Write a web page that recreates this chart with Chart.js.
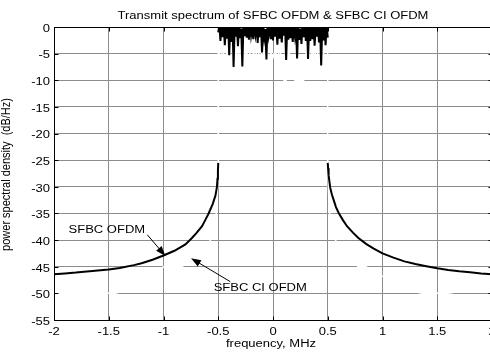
<!DOCTYPE html>
<html>
<head>
<meta charset="utf-8">
<script src="https://cdn.jsdelivr.net/npm/chart.js@4/dist/chart.umd.min.js"></script>
<style>
  html, body { margin: 0; padding: 0; background: #fff; overflow: hidden; }
  #wrap { width: 490px; height: 354px; overflow: hidden; }
  canvas { display: block; }
</style>
</head>
<body>
<div id="wrap"><canvas id="c" width="510" height="354"></canvas></div>
<script>
// ---------- data ----------
const titleText = 'Transmit spectrum of SFBC OFDM & SFBC CI OFDM';
const xTitle = 'frequency, MHz';
const yTitle = 'power spectral density  (dB/Hz)';
const seriesNames = ['SFBC OFDM', 'SFBC CI OFDM'];

const xTickValues = [-2, -1.5, -1, -0.5, 0, 0.5, 1, 1.5, 2];
const xTickLabels = ['-2', '-1.5', '-1', '-0.5', '0', '0.5', '1', '1.5', '2'];
const yTickValues = [0, -5, -10, -15, -20, -25, -30, -35, -40, -45, -50, -55];
const yTickLabels = ['0', '-5', '-10', '-15', '-20', '-25', '-30', '-35', '-40', '-45', '-50', '-55'];

// SFBC OFDM, out of band
const ofdmLeftFreq = [-2, -1.9, -1.8, -1.7, -1.6, -1.5, -1.4, -1.27, -1.2, -1.1, -1.0, -0.9, -0.8, -0.74, -0.7, -0.648, -0.62, -0.588, -0.55, -0.525, -0.512, -0.507, -0.503, -0.5];
const ofdmLeftPsd  = [-46.4, -46.25, -46.1, -45.9, -45.7, -45.5, -45.25, -44.7, -44.35, -43.7, -42.9, -42.0, -40.8, -39.6, -38.7, -37.4, -36.3, -35.0, -33.2, -31.6, -30.0, -28.5, -27.0, -25.5];
const ofdmRightFreq = [0.5, 0.503, 0.508, 0.515, 0.523, 0.537, 0.553, 0.575, 0.6, 0.64, 0.676, 0.73, 0.78, 0.85, 0.92, 1.0, 1.1, 1.2, 1.3, 1.4, 1.5, 1.6, 1.7, 1.8, 1.9, 2.0];
const ofdmRightPsd  = [-25.5, -26.5, -27.8, -29.0, -30.2, -31.4, -32.4, -33.8, -34.9, -36.3, -37.4, -38.6, -39.6, -40.7, -41.6, -42.5, -43.3, -44.0, -44.5, -44.9, -45.3, -45.6, -45.85, -46.05, -46.25, -46.4];
// SFBC OFDM, in band: samples every 0.01 MHz from -0.5 to 0.5
const ofdmInbandStart = -0.5, ofdmInbandStep = 0.01;
const ofdmInbandPsd = [
  -1.0, 0.4, -2.6, 0.8, -1.9, 0.2, -3.4, 0.6, -2.2, 0.9,
  -5.3, 0.3, -2.8, 0.7, -7.5, 0.1, -1.8, 0.5, -3.6, 0.8,
  -2.1, -0.3, -7.4, 0.6, -1.7, 0.4, -2.0, 0.2, -2.4, 0.9,
  -1.6, -0.2, -2.3, 0.5, -1.4, 0.3, -3.0, 0.7, -1.9, 0.1,
  -4.8, 0.6, -2.0, -0.4, -6.1, 0.8, -1.5, 0.2, -2.3, 0.5,
  -2.5, 0.9, -1.8, 0.3, -3.3, 0.6, -2.2, -0.2, -2.9, 0.4,
  -1.6, 0.7, -6.2, 0.2, -2.4, 0.8, -2.1, 0.5, -2.8, 0.1,
  -1.7, 0.6, -5.9, 0.3, -2.4, -0.3, -3.2, 0.9, -1.9, 0.4,
  -2.6, 0.7, -6.0, 0.2, -2.6, 0.5, -2.3, 0.8, -3.5, 0.1,
  -1.8, 0.6, -2.9, -0.2, -7.2, 0.4, -2.5, 0.9, -3.4, 0.3,
  -2.0
];

// SFBC CI OFDM (drawn white in the reference)
const ciLeftFreq = [-2, -1.44, -1.3, -1.15, -1.0, -0.84, -0.72, -0.64, -0.58, -0.54, -0.52, -0.51, -0.5];
const ciLeftPsd  = [-50, -50, -49.2, -47.6, -45, -45, -43.9, -42.3, -40.5, -38, -35.5, -32.5, -25.5];
const ciRightFreq = [0.5, 0.51, 0.52, 0.54, 0.58, 0.64, 0.72, 0.78, 0.85, 1.0, 1.15, 1.3, 1.36, 1.57, 1.7, 1.85, 2.0];
const ciRightPsd  = [-25.5, -32.5, -35.5, -38, -40.5, -42.3, -43.9, -45, -45, -46.8, -48.5, -49.7, -50, -50, -50.4, -50.6, -50.7];
const ciEdgeTop = 1;
const ciInbandStart = -0.5, ciInbandStep = 0.02;
const ciInbandPsd = [
  -4.0, -6.5, -3.5, -7.0, -4.5, -5.5, -3.0, -6.8, -4.2, -5.8,
  -3.8, -6.2, -4.6, -5.2, -3.4, -6.6, -4.8, -5.6, -3.6, -6.4,
  -4.4, -5.4, -3.9, -6.1, -4.9, -5.7, -4.3, -6.3, -3.7, -6.7,
  -10.0, -10.0, -4.1, -5.9, -6.9, -10.0, -10.0, -10.0, -10.0, -10.0,
  -5.3, -3.5, -6.0, -4.5, -5.5, -3.8, -6.6, -4.0, -5.0, -4.4,
  -3.6
];

// annotations (data coordinates)
const ofdmLabelPos = [-1.867, -38.6];
const ofdmArrow = [[-1.148, -39.0], [-0.983, -42.97]];
const ciLabelPos = [-0.542, -49.55];
const ciArrow = [[-0.39, -47.8], [-0.749, -43.4]];

// ---------- build ----------
function pts(fx, fy) { return fx.map((x, i) => ({ x: x, y: fy[i] })); }
function grid(start, step, vals) { return vals.map((v, i) => ({ x: +(start + i * step).toFixed(4), y: v })); }

const ofdmData = [].concat(
  pts(ofdmLeftFreq, ofdmLeftPsd),
  [{ x: -0.5, y: null }],
  grid(ofdmInbandStart, ofdmInbandStep, ofdmInbandPsd),
  [{ x: 0.5, y: null }],
  pts(ofdmRightFreq, ofdmRightPsd)
);
const ciData = [].concat(
  pts(ciLeftFreq, ciLeftPsd),
  [{ x: -0.5, y: ciEdgeTop }],
  grid(ciInbandStart, ciInbandStep, ciInbandPsd),
  [{ x: 0.5, y: ciEdgeTop }],
  pts(ciRightFreq, ciRightPsd)
);

const FONT = '10px "Liberation Sans", Arial, sans-serif';
const SX = 1.3;
function txt(ctx, s, x, y, align, font, sx) {
  ctx.save();
  ctx.translate(x, y);
  ctx.scale(sx, 1);
  ctx.font = font;
  ctx.textAlign = align;
  ctx.textBaseline = 'alphabetic';
  ctx.fillStyle = '#000';
  ctx.fillText(s, 0, 0);
  ctx.restore();
}
function arrow(ctx, xs, ys, from, to) {
  const x1 = xs.getPixelForValue(from[0]), y1 = ys.getPixelForValue(from[1]);
  const x2 = xs.getPixelForValue(to[0]), y2 = ys.getPixelForValue(to[1]);
  const a = Math.atan2(y2 - y1, x2 - x1);
  const L = 10, W = 3.6;
  ctx.save();
  ctx.strokeStyle = '#000';
  ctx.fillStyle = '#000';
  ctx.lineWidth = 1;
  ctx.beginPath();
  ctx.moveTo(x1, y1);
  ctx.lineTo(x2 - Math.cos(a) * L * 0.8, y2 - Math.sin(a) * L * 0.8);
  ctx.stroke();
  ctx.beginPath();
  ctx.moveTo(x2, y2);
  ctx.lineTo(x2 - Math.cos(a) * L - Math.sin(a) * W, y2 - Math.sin(a) * L + Math.cos(a) * W);
  ctx.lineTo(x2 - Math.cos(a) * L + Math.sin(a) * W, y2 - Math.sin(a) * L - Math.cos(a) * W);
  ctx.closePath();
  ctx.fill();
  ctx.restore();
}

const decor = {
  id: 'decor',
  afterDraw(chart) {
    const ctx = chart.ctx, ca = chart.chartArea;
    const xs = chart.scales.x, ys = chart.scales.y;
    ctx.save();
    ctx.strokeStyle = '#000';
    ctx.lineWidth = 1;
    const L = Math.round(ca.left) + 0.5, R = Math.round(ca.right) + 0.5;
    const T = Math.round(ca.top) + 0.5, B = Math.round(ca.bottom) + 0.5;
    ctx.beginPath();
    ctx.moveTo(L, T); ctx.lineTo(R, T); ctx.lineTo(R, B); ctx.lineTo(L, B); ctx.closePath();
    ctx.stroke();
    ctx.beginPath();
    yTickValues.forEach(v => {
      const y = Math.round(ys.getPixelForValue(v)) + 0.5;
      ctx.moveTo(L, y); ctx.lineTo(L + 4, y);
      ctx.moveTo(R, y); ctx.lineTo(R - 4, y);
    });
    xTickValues.forEach(v => {
      const x = Math.round(xs.getPixelForValue(v)) + 0.5;
      ctx.moveTo(x, B); ctx.lineTo(x, B - 4);
      ctx.moveTo(x, T); ctx.lineTo(x, T + 4);
    });
    ctx.stroke();
    ctx.restore();
    yTickValues.forEach((v, i) => {
      txt(ctx, yTickLabels[i], ca.left - 4, ys.getPixelForValue(v) + 4.8, 'right', FONT, SX);
    });
    xTickValues.forEach((v, i) => {
      txt(ctx, xTickLabels[i], xs.getPixelForValue(v), ca.bottom + 15, 'center', FONT, SX);
    });
    const cx = (ca.left + xs.getPixelForValue(2)) / 2;
    txt(ctx, titleText, cx, 18.5, 'center', FONT, SX);
    txt(ctx, xTitle, cx - 2, 346.5, 'center', FONT, SX);
    ctx.save();
    ctx.translate(9.5, 174.5);
    ctx.rotate(-Math.PI / 2);
    ctx.scale(1, 1.1);
    ctx.font = '11px "Liberation Sans", Arial, sans-serif';
    ctx.textAlign = 'center';
    ctx.textBaseline = 'alphabetic';
    ctx.fillStyle = '#000';
    ctx.fillText(yTitle, 0, 0);
    ctx.restore();
    txt(ctx, seriesNames[0], xs.getPixelForValue(ofdmLabelPos[0]), ys.getPixelForValue(ofdmLabelPos[1]), 'left', FONT, SX);
    txt(ctx, seriesNames[1], xs.getPixelForValue(ciLabelPos[0]), ys.getPixelForValue(ciLabelPos[1]), 'left', FONT, SX);
    arrow(ctx, xs, ys, ofdmArrow[0], ofdmArrow[1]);
    arrow(ctx, xs, ys, ciArrow[0], ciArrow[1]);
  }
};

new Chart(document.getElementById('c'), {
  type: 'line',
  data: {
    datasets: [
      { label: seriesNames[0], data: ofdmData, borderColor: '#000', borderWidth: 2, pointRadius: 0, tension: 0, spanGaps: false, clip: 0 },
      { label: seriesNames[1], data: ciData, borderColor: '#fff', borderWidth: 1.5, pointRadius: 0, tension: 0, spanGaps: false, clip: 0 }
    ]
  },
  options: {
    responsive: false,
    animation: false,
    events: [],
    layout: { padding: { left: 0, top: 27, right: 18, bottom: 0 } },
    plugins: { legend: { display: false }, tooltip: { enabled: false }, title: { display: false } },
    scales: {
      x: {
        type: 'linear', min: -2, max: 2,
        afterBuildTicks: s => { s.ticks = xTickValues.map(v => ({ value: v })); },
        afterFit: s => { s.height = 34; },
        ticks: { display: false },
        grid: { color: 'rgb(140,140,140)', lineWidth: 1, drawTicks: false },
        border: { display: false }
      },
      y: {
        type: 'linear', min: -55, max: 0,
        afterBuildTicks: s => { s.ticks = yTickValues.map(v => ({ value: v })); },
        afterFit: s => { s.width = 54; },
        ticks: { display: false },
        grid: { color: 'rgb(140,140,140)', lineWidth: 1, drawTicks: false },
        border: { display: false }
      }
    }
  },
  plugins: [decor]
});
</script>
</body>
</html>
